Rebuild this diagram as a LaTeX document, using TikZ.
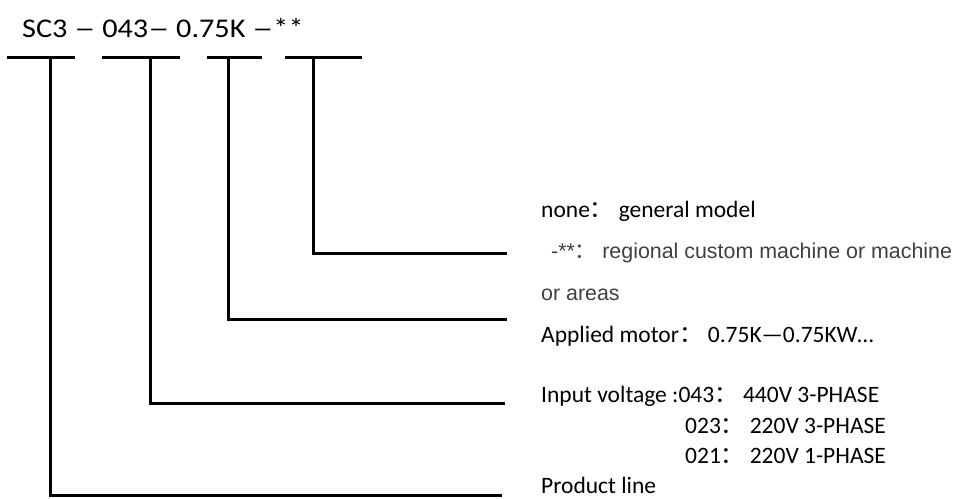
\documentclass[tikz,border=0pt]{standalone}
\usepackage{fontspec}
\setmainfont{Carlito}
\newfontfamily\arialf{Liberation Sans}
\newfontfamily\cjk{Noto Sans CJK SC}
\definecolor{greytxt}{HTML}{404040}
\newcommand\wdash{\scalebox{1.4}[1]{–}}
\begin{document}
\begin{tikzpicture}[x=1pt,y=-1pt,
  lbl/.style={anchor=base west, inner sep=0pt, font=\fontsize{23.5}{26}\selectfont},
  glbl/.style={anchor=base west, inner sep=0pt, text=greytxt, font=\arialf\fontsize{21.4}{26}\selectfont},
  bar/.style={line width=3pt},
  leader/.style={line width=3pt}]
\useasboundingbox (0,0) rectangle (957,498);
\fill[white] (0,0) rectangle (957,498);
% title
\node[anchor=base west, inner sep=0pt, font=\fontsize{27}{30}\selectfont] (title) at (22,37)
  {\scalebox{1.12}[1]{SC3 \wdash\ 043\wdash\ 0.75K \wdash**}};
% bars
\coordinate (b1l) at (7,57);   \coordinate (b1r) at (75,57);
\coordinate (b2l) at (102,57); \coordinate (b2r) at (180,57);
\coordinate (b3l) at (207,57); \coordinate (b3r) at (262,57);
\coordinate (b4l) at (285,57); \coordinate (b4r) at (362,57);
\draw[bar] (b1l) -- (b1r);
\draw[bar] (b2l) -- (b2r);
\draw[bar] (b3l) -- (b3r);
\draw[bar] (b4l) -- (b4r);
% leader start and end points
\coordinate (v1) at (50,57);  \coordinate (e1) at (502,495);
\coordinate (v2) at (150,57); \coordinate (e2) at (505,403);
\coordinate (v3) at (228,57); \coordinate (e3) at (507,319);
\coordinate (v4) at (313,57); \coordinate (e4) at (507,253);
\draw[leader] (v1) |- (e1);
\draw[leader] (v2) |- (e2);
\draw[leader] (v3) |- (e3);
\draw[leader] (v4) |- (e4);
% labels
\node[lbl] (t1) at (541,217.5) {none{\cjk ：}\ general model};
\node[glbl] (t2) at (551,258) {-**{\cjk ：}\ regional custom machine or machine};
\node[glbl] (t3) at (541,300) {or areas};
\node[lbl] (t4) at (541,342.5) {Applied motor{\cjk ：}\ 0.75K—0.75KW…};
\node[lbl] (t5) at (541,402) {Input voltage :043{\cjk ：}\ 440V 3-PHASE};
\node[lbl] (t6) at (685,433) {023{\cjk ：}\ 220V 3-PHASE};
\node[lbl] (t7) at (685,463) {021{\cjk ：}\ 220V 1-PHASE};
\node[lbl] (t8) at (541,493.5) {Product line};
\end{tikzpicture}
\end{document}
